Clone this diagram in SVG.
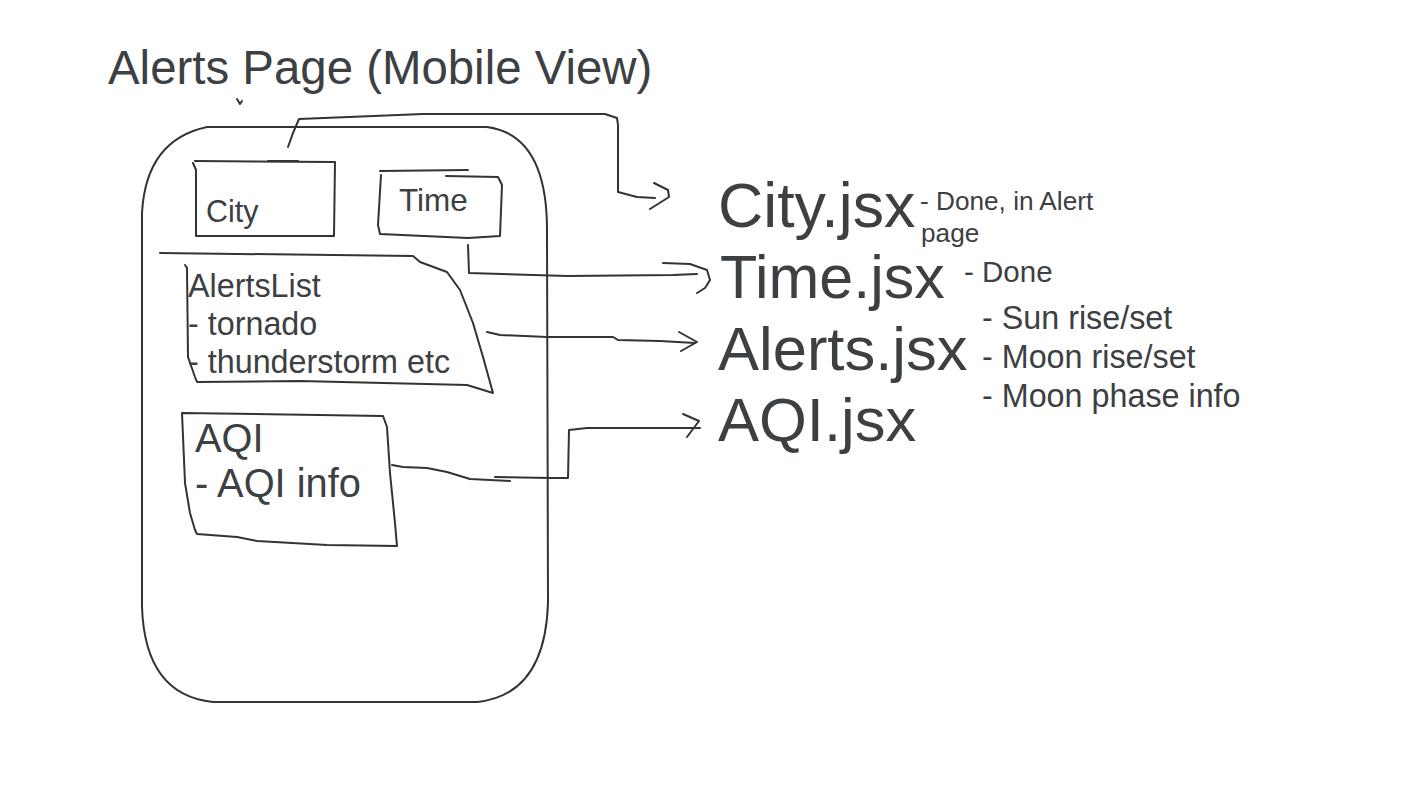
<svg xmlns="http://www.w3.org/2000/svg" width="1422" height="800" viewBox="0 0 1422 800">
<style>
.ln{fill:none;stroke:#333;stroke-width:2;stroke-linejoin:round;stroke-linecap:round}
.t{font-family:"Liberation Sans",Arial,sans-serif;fill:#3c4043}
</style>
<rect width="1422" height="800" fill="#fff"/>
<g id="title">
<text class="t" x="108" y="84" font-size="47.4">Alerts Page (Mobile View)</text>
<path class="ln" d="M237,99 L240,104 L242,101" stroke-width="1.2"/>
</g>
<g id="phone">
<path class="ln" d="M207,127 L487,127 Q547,135 547,230 L548,603 Q545,695 477,702 L213,702 Q145,695 142,607 L142,213 Q146,140 207,127 Z"/>
</g>
<g id="city">
<path class="ln" d="M195,161 L335,162 L334,236 L196,236 L196,170 L193,163"/>
<path class="ln" d="M268,161 L298,161" stroke-width="3"/>
<text class="t" x="206" y="222" font-size="30.5">City</text>
</g>
<g id="time">
<path class="ln" d="M380,171 L468,170"/>
<path class="ln" d="M446,176 L498,177 L502,185 L500,236 L468,238 L380,234 L378,225 L381,175"/>
<text class="t" x="399" y="211" font-size="31.5">Time</text>
</g>
<g id="alertslist">
<path class="ln" d="M160,253 L413,256 L420,262 L447,272 L460,290 L473,323 L483,357 L493,393 L467,385 L300,381 L197,382 L195,377 L188,357 L187,268 L185,265"/>
<text class="t" x="188" y="297" font-size="32.3">AlertsList</text>
<text class="t" x="188" y="335" font-size="32.3">- tornado</text>
<text class="t" x="188" y="373" font-size="32.3">- thunderstorm etc</text>
</g>
<g id="aqi">
<path class="ln" d="M182,413 L383,416 L387,427 L390,473 L395,523 L397,546 L327,545 L257,541 L237,537 L197,534 L195,530 L190,513 L185,483 L182,413 Z"/>
<text class="t" x="195" y="452" font-size="39.8">AQI</text>
<text class="t" x="195" y="497" font-size="39.8">- AQI info</text>
</g>
<g id="city-jsx">
<text class="t" x="718" y="227" font-size="62.7">City.jsx</text>
<text class="t" x="920" y="210" font-size="26.2">- Done, in Alert</text>
<text class="t" x="921" y="242" font-size="26.2">page</text>
</g>
<g id="time-jsx">
<text class="t" x="720" y="298" font-size="61">Time.jsx</text>
<text class="t" x="964" y="282" font-size="29.5">- Done</text>
</g>
<g id="alerts-jsx">
<text class="t" x="718" y="370" font-size="61.5">Alerts.jsx</text>
<text class="t" x="982" y="329" font-size="32.3">- Sun rise/set</text>
<text class="t" x="982" y="368" font-size="32.3">- Moon rise/set</text>
<text class="t" x="982" y="407" font-size="32.3">- Moon phase info</text>
</g>
<g id="aqi-jsx">
<text class="t" x="718" y="441" font-size="61.5">AQI.jsx</text>
</g>
<g id="connectors">
<path class="ln" d="M288,147 L293,133 L299,119 L423,114 L605,114 L617,118 L618,125 L618,192 L637,197 L655,198"/>
<path class="ln" d="M654,183 L668,190 L669,197 L650,209"/>
<path class="ln" d="M468,245 L469,273 L567,276 L673,275 L697,274"/>
<path class="ln" d="M663,263 L690,264 L707,270 L710,280 L705,288 L697,293"/>
<path class="ln" d="M487,332 L500,335 L547,337 L613,337 L618,340 L660,341 L695,343"/>
<path class="ln" d="M679,332 L697,342 L681,351"/>
<path class="ln" d="M392,465 L403,467 L427,468 L447,472 L470,479 L510,481"/>
<path class="ln" d="M495,477 L550,478 L568,478 L569,430 L587,428 L700,428"/>
<path class="ln" d="M683,414 L699,421 L687,437"/>
</g>
</svg>
